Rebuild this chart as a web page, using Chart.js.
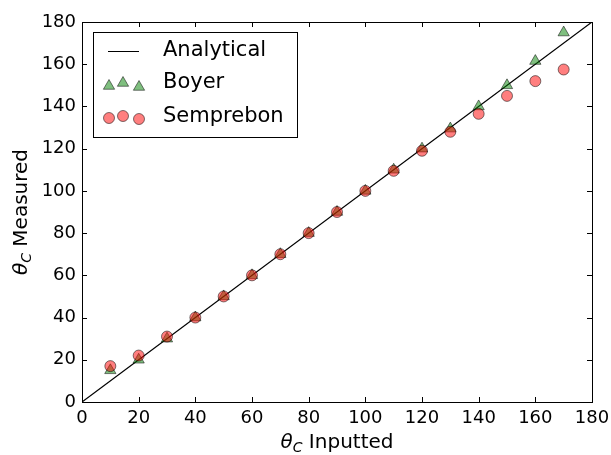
<!DOCTYPE html>
<html>
<head>
<meta charset="utf-8">
<script src="https://cdn.jsdelivr.net/npm/chart.js@4"></script>
<style>
  html, body { margin: 0; padding: 0; background: #fff; }
  #wrap { width: 611px; height: 455px; }
</style>
</head>
<body>
<div id="wrap"><canvas id="chart" width="611" height="455"></canvas></div>
<script>
// contact angle data (degrees)
const inputted = [10, 20, 30, 40, 50, 60, 70, 80, 90, 100, 110, 120, 130, 140, 150, 160, 170];
const boyer = [15, 20, 30, 40, 50, 60, 70, 80, 90, 100, 110, 120, 129.5, 140, 150, 161.5, 175];
const semprebon = [17, 22, 31, 40, 50, 60, 70, 80, 90, 100, 109.5, 119, 128, 136.5, 145, 152, 157.5];
const analyticalX = [0, 180];
const axisTicks = [0, 20, 40, 60, 80, 100, 120, 140, 160, 180];

const FONT = "'DejaVu Sans', sans-serif";
const GREEN = "rgba(0,128,0,0.5)";
const RED = "rgba(255,0,0,0.5)";
const EDGE = "rgba(0,0,0,0.5)";

function toPoints(xs, ys) {
    return xs.map((x, i) => ({ x: x, y: ys[i] }));
}

// frame, inward ticks, axis titles and legend (matplotlib style)
const decorations = {
    id: "decorations",
    afterDraw(chart) {
        const ctx = chart.ctx;
        const a = chart.chartArea;
        const xs = chart.scales.x, ys = chart.scales.y;
        ctx.save();

        // ticks on all four sides, pointing in
        ctx.strokeStyle = "#000";
        ctx.lineWidth = 1;
        ctx.beginPath();
        axisTicks.forEach(v => {
            const px = Math.round(xs.getPixelForValue(v)) + 0.5;
            ctx.moveTo(px, a.bottom); ctx.lineTo(px, a.bottom - 5);
            ctx.moveTo(px, a.top); ctx.lineTo(px, a.top + 5);
            const py = Math.round(ys.getPixelForValue(v)) + 0.5;
            ctx.moveTo(a.left, py); ctx.lineTo(a.left + 5, py);
            ctx.moveTo(a.right, py); ctx.lineTo(a.right - 5, py);
        });
        ctx.stroke();

        // frame
        ctx.strokeRect(Math.round(a.left) + 0.5, Math.round(a.top) + 0.5,
            Math.round(a.right - a.left), Math.round(a.bottom - a.top));

        // axis titles
        ctx.fillStyle = "#000";
        ctx.textBaseline = "alphabetic";
        function drawTitle(rest) {
            ctx.font = "italic 20px " + FONT;
            const wTheta = ctx.measureText("θ").width;
            ctx.font = "italic 14px " + FONT;
            const wC = ctx.measureText("C").width;
            ctx.font = "20px " + FONT;
            const wRest = ctx.measureText(rest).width;
            const total = wTheta + wC + wRest;
            let x = -total / 2;
            ctx.textAlign = "left";
            ctx.font = "italic 20px " + FONT;
            ctx.fillText("θ", x, 0);
            x += wTheta;
            ctx.font = "italic 14px " + FONT;
            ctx.fillText("C", x, 4);
            x += wC;
            ctx.font = "20px " + FONT;
            ctx.fillText(rest, x, 0);
        }
        ctx.save();
        ctx.translate((a.left + a.right) / 2, 448);
        drawTitle(" Inputted");
        ctx.restore();
        ctx.save();
        ctx.translate(27, (a.top + a.bottom) / 2);
        ctx.rotate(-Math.PI / 2);
        drawTitle(" Measured");
        ctx.restore();

        // legend
        const lx = a.left + 11, ly = a.top + 10, lw = 204, lh = 105;
        ctx.fillStyle = "#fff";
        ctx.fillRect(lx, ly, lw, lh);
        ctx.strokeStyle = "#000";
        ctx.strokeRect(lx + 0.5, ly + 0.5, lw, lh);

        ctx.beginPath();
        ctx.moveTo(lx + 15, ly + 19.5);
        ctx.lineTo(lx + 46, ly + 19.5);
        ctx.stroke();

        const sx = [lx + 16, lx + 30, lx + 46];
        const triDy = [54, 51, 55];
        const cirDy = [86, 84, 87];
        ctx.lineWidth = 1;
        ctx.strokeStyle = EDGE;
        sx.forEach((x, i) => {
            const y = ly + triDy[i], r = 6.5;
            ctx.beginPath();
            ctx.moveTo(x, y - r);
            ctx.lineTo(x + r * 0.866, y + r * 0.5);
            ctx.lineTo(x - r * 0.866, y + r * 0.5);
            ctx.closePath();
            ctx.fillStyle = GREEN;
            ctx.fill();
            ctx.stroke();
        });
        sx.forEach((x, i) => {
            ctx.beginPath();
            ctx.arc(x, ly + cirDy[i], 5.5, 0, Math.PI * 2);
            ctx.fillStyle = RED;
            ctx.fill();
            ctx.stroke();
        });

        ctx.fillStyle = "#000";
        ctx.font = "21px " + FONT;
        ctx.textAlign = "left";
        ctx.textBaseline = "middle";
        ctx.fillText("Analytical", lx + 70, ly + 19);
        ctx.fillText("Boyer", lx + 70, ly + 51);
        ctx.fillText("Semprebon", lx + 70, ly + 85);

        ctx.restore();
    }
};

const axisCommon = {
    type: "linear",
    min: 0,
    max: 180,
    grid: { display: false, drawTicks: false },
    border: { display: false },
    ticks: {
        stepSize: 20,
        padding: 6,
        color: "#000",
        font: { family: FONT, size: 18 }
    }
};

new Chart(document.getElementById("chart"), {
    type: "scatter",
    data: {
        datasets: [
            {
                label: "Analytical",
                type: "line",
                data: toPoints(analyticalX, analyticalX),
                borderColor: "#000",
                borderWidth: 1.2,
                pointRadius: 0,
                fill: false,
                order: 3
            },
            {
                label: "Boyer",
                data: toPoints(inputted, boyer),
                pointStyle: "triangle",
                pointRadius: 6.5,
                backgroundColor: GREEN,
                borderColor: EDGE,
                borderWidth: 1,
                order: 2
            },
            {
                label: "Semprebon",
                data: toPoints(inputted, semprebon),
                pointStyle: "circle",
                pointRadius: 5.5,
                backgroundColor: RED,
                borderColor: EDGE,
                borderWidth: 1,
                order: 1
            }
        ]
    },
    options: {
        responsive: false,
        animation: false,
        layout: { padding: { left: 0, top: 22, right: 19, bottom: 0 } },
        plugins: {
            legend: { display: false },
            tooltip: { enabled: false }
        },
        scales: {
            x: Object.assign({}, axisCommon, {
                position: "bottom",
                afterFit(scale) {
                    scale.height = 53;
                    scale.paddingLeft = 0;
                    scale.paddingRight = 0;
                }
            }),
            y: Object.assign({}, axisCommon, {
                position: "left",
                afterFit(scale) {
                    scale.width = 82;
                    scale.paddingTop = 0;
                    scale.paddingBottom = 0;
                }
            })
        }
    },
    plugins: [decorations]
});
</script>
</body>
</html>
